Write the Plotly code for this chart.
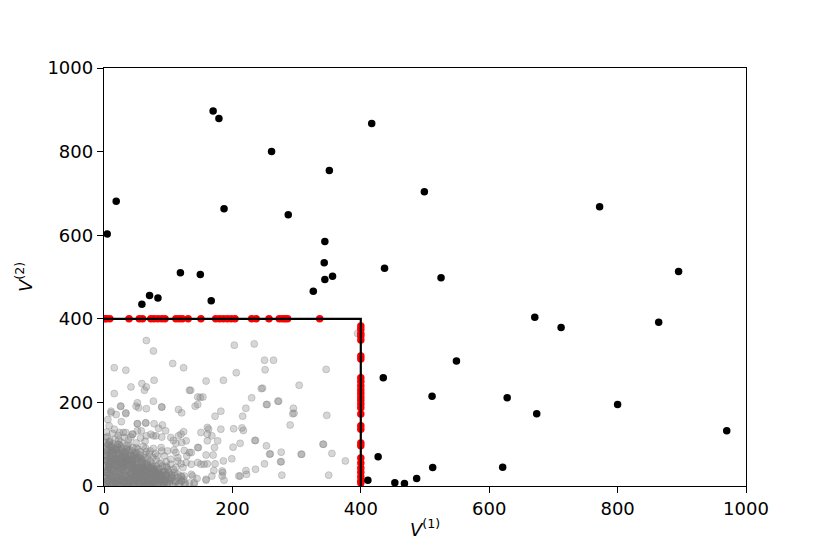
import plotly.graph_objects as go

# 상한 u = 400 인 절단 영역
u_level = 400
box_x = [0, 400, 400]
box_y = [400, 400, 0]

# 영역 밖의 점 (검정)
out_x = [170, 179, 417, 261, 351, 499, 19, 187, 287, 5, 344, 343, 437, 119, 150, 356, 344, 326, 71, 84, 167, 59,
         772, 525, 895, 671, 712, 864, 549, 511, 628, 674, 800, 970, 435, 427, 411, 453, 468, 487, 512, 621]
out_y = [897, 879, 867, 800, 755, 704, 681, 663, 649, 603, 585, 534, 521, 510, 506, 502, 494, 466, 456, 450, 443, 435,
         668, 498, 513, 404, 379, 392, 299, 215, 211, 173, 195, 132, 259, 70, 14, 8, 6, 18, 44, 45]

# 경계로 잘린 점 (빨강) - 가로선 위
cut_top_x = [1, 4, 9, 39, 55, 60, 73, 78, 84, 90, 95, 112, 117, 122, 131, 151, 174, 180, 186, 192, 198, 204,
             230, 237, 257, 273, 278, 282, 286, 336]
# 세로선 위
cut_side_y = [383, 375, 365, 359, 349, 311, 304, 259, 250, 240, 230, 222, 213, 205, 196, 187, 172, 144, 136,
              103, 96, 67, 55, 43, 33, 22, 12, 7]

# 영역 안의 점 (회색)
gray_x = [
    # y 0-20
    2, 5, 8, 11, 14, 17, 20, 23, 26, 29, 32, 35, 38, 41, 44, 47, 50, 53, 56, 59, 62, 65, 68, 71, 74, 77, 80, 83,
    86, 89, 92, 95, 99, 103, 107, 111, 116, 121, 127, 133, 3, 9, 19, 27, 36, 46, 57, 69, 78, 88,
    # y 20-45
    3, 6, 9, 12, 15, 18, 21, 24, 27, 30, 33, 36, 39, 42, 45, 48, 51, 54, 57, 60, 63, 66, 69, 72, 75, 78, 81, 84,
    88, 92, 96, 100, 105, 110, 115, 121, 7, 25, 44, 62, 80, 98,
    # y 45-70
    2, 5, 8, 11, 14, 17, 20, 23, 26, 29, 32, 35, 38, 41, 44, 47, 50, 53, 57, 60, 64, 68, 72, 76, 81, 86, 91, 97,
    104, 12, 31, 48,
    # y 70-100
    3, 6, 9, 12, 15, 18, 21, 24, 27, 30, 33, 36, 39, 42, 45, 49, 53, 57, 61, 66, 71, 77, 83, 90, 8, 22,
    # y 100-130
    2, 5, 9, 13, 17, 22, 27, 32, 38, 44, 50, 57, 64, 4, 30,
    # 밀집 영역 추가
    4, 7, 10, 13, 16, 19, 22, 25, 28, 31, 34, 37, 40, 43, 46, 49, 52, 55, 58, 61, 64, 67, 70, 73, 76, 79, 82, 85,
    90, 94, 98, 102, 106, 112, 118, 124, 6, 9, 12, 15, 18, 21, 24, 27, 30, 33, 36, 39, 42, 45, 48, 51, 54, 57,
    60, 63, 66, 69, 72, 75, 78, 81, 85, 89, 93, 97, 101, 108, 3, 5, 8, 11, 14, 17, 20, 23, 26, 29, 32, 35, 38,
    41, 44, 47, 50, 53, 56, 59, 62, 65, 68, 72, 76, 80, 1, 2, 3, 6, 10, 18, 24, 33, 42, 51, 60, 70, 84, 96, 110,
    126, 140, 145,
    1, 3, 5, 7, 9, 11, 13, 15, 17, 19, 21, 23, 25, 27, 29, 31, 33, 35, 37, 39, 41, 43, 45, 47, 49, 51, 53, 55,
    57, 59, 61, 63, 65, 67, 69, 71, 73, 75, 77, 79, 81, 83, 85, 87, 89, 91, 93, 95, 97, 100,
    2, 4, 6, 8, 10, 12, 14, 16, 18, 20, 22, 24, 26, 28, 30, 32, 34, 36, 38, 40, 42, 44, 46, 48, 50, 54, 58, 62,
    66, 70, 74, 78, 82, 86, 90, 95, 100, 105, 110, 115,
    2, 4, 6, 8, 10, 12, 14, 16, 18, 20, 22, 24, 26, 28, 30, 32, 34, 36, 38, 40, 42, 44, 46, 48, 50, 52, 54, 56,
    58, 60, 62, 64, 66, 68, 70, 72, 74, 76, 78, 80,
    1, 3, 5, 7, 9, 11, 13, 15, 17, 19, 21, 23, 25, 27, 29, 31, 33, 35, 37, 39, 41, 43, 45, 47, 49, 51, 53, 55,
    57, 59, 61, 63, 65, 67, 69, 72, 76, 80, 86, 92,
    3, 8, 13, 18, 23, 28, 33, 38, 43, 48, 53, 58, 63, 68, 73, 78, 83, 88, 93, 98,
    # 가장자리
    26, 50, 90, 146, 11, 19, 34, 6, 27, 52, 65, 78, 91, 8, 16, 34, 45, 58, 73, 81, 104, 120, 128, 151, 161, 161,
    168, 146, 133, 115, 128, 136, 123, 151, 161, 120, 136, 159, 104, 89, 99, 109, 94, 104,
    # 흩어진 점
    66, 77, 203, 234, 250, 264, 16, 34, 107, 124, 251, 206, 59, 78, 42, 66, 63, 133, 135, 159, 186, 245, 16, 146,
    150, 230, 77, 52, 142, 253, 26, 90, 54, 116, 66, 221, 182, 121, 11, 34, 173, 216, 52, 65, 85, 96, 124, 163,
    182, 202, 215, 236, 253, 258, 212, 201, 177, 172, 147, 136, 116, 108, 112, 90, 77, 66, 52, 42, 24, 121, 125,
    129, 159, 170, 173, 184, 184, 168, 146, 138, 141, 212, 222, 236, 250, 112, 115, 120, 112, 125, 121,
    395, 346, 247, 304, 271, 295, 296, 347, 290, 342, 259, 276, 308, 355, 376, 276, 277, 350, 154, 272, 254,
    294, 217, 161, 235, 307, 341, 186, 199, 156, 171, 185, 221, 210, 275, 159, 187]
gray_y = [
    # y 0-20
    3, 12, 6, 17, 2, 9, 14, 4, 11, 18, 6, 1, 13, 8, 16, 3, 10, 19, 5, 12, 2, 15, 8, 18, 4, 11, 1, 14,
    7, 17, 3, 10, 6, 14, 2, 9, 4, 12, 3, 7, 19, 1, 7, 2, 9, 12, 17, 1, 16, 11,
    # y 20-45
    25, 38, 30, 22, 42, 28, 35, 23, 44, 31, 26, 39, 21, 33, 41, 27, 36, 24, 43, 30, 22, 38, 28, 34, 24, 41, 29, 36,
    23, 32, 27, 39, 24, 33, 28, 22, 44, 32, 22, 35, 21, 44,
    # y 45-70
    48, 62, 53, 68, 46, 57, 65, 50, 60, 47, 69, 55, 63, 49, 58, 66, 52, 61, 47, 56, 68, 51, 59, 46, 63, 54, 48, 58,
    52, 58, 52, 45,
    # y 70-100
    72, 88, 79, 96, 74, 85, 93, 77, 90, 82, 71, 97, 86, 75, 92, 80, 88, 73, 95, 82, 76, 90, 72, 84, 99, 100,
    # y 100-130
    104, 118, 108, 126, 112, 121, 105, 116, 110, 124, 103, 115, 107, 129, 128,
    # 밀집 영역 추가
    5, 15, 27, 8, 35, 21, 50, 6, 40, 16, 57, 3, 29, 47, 14, 24, 5, 33, 18, 44, 9, 26, 13, 37, 7, 22, 15, 30,
    18, 8, 25, 6, 19, 11, 6, 16, 55, 70, 84, 62, 48, 76, 58, 68, 45, 82, 63, 52, 72, 60, 35, 78, 43, 66,
    50, 38, 57, 44, 30, 52, 34, 47, 40, 55, 36, 47, 33, 40, 33, 80, 45, 92, 102, 66, 86, 110, 95, 75, 60, 88, 100,
    64, 84, 73, 91, 70, 82, 64, 75, 90, 66, 84, 68, 78, 90, 60, 115, 100, 40, 5, 15, 12, 2, 17, 7, 20, 4, 15, 25,
    8, 5, 18,
    8, 20, 33, 45, 58, 12, 26, 39, 52, 4, 16, 29, 42, 55, 10, 23, 36, 49, 2, 14, 27, 40, 53, 7, 19, 31, 44, 5,
    17, 30, 43, 11, 24, 37, 3, 15, 28, 41, 9, 21, 34, 6, 18, 32, 13, 25, 4, 16, 28, 11,
    70, 62, 85, 48, 77, 95, 66, 88, 57, 80, 72, 99, 64, 86, 54, 76, 69, 91, 59, 81, 63, 50, 74, 45, 67, 40, 58, 35,
    52, 30, 48, 38, 26, 42, 22, 34, 18, 28, 12, 20,
    2, 31, 14, 52, 7, 40, 22, 63, 11, 48, 3, 35, 18, 57, 9, 44, 26, 5, 38, 16, 29, 8, 46, 21, 13, 34, 4, 24,
    10, 41, 17, 6, 28, 12, 20, 3, 15, 9, 25, 6,
    40, 9, 74, 27, 60, 18, 85, 4, 50, 32, 68, 13, 44, 24, 56, 7, 37, 62, 20, 47, 11, 30, 53, 2, 36, 19, 45, 27,
    8, 33, 23, 14, 39, 5, 18, 30, 12, 4, 22, 9,
    95, 105, 78, 92, 88, 70, 80, 66, 72, 60, 64, 58, 50, 48, 44, 38, 30, 26, 14, 6,
    # 가장자리
    191, 191, 189, 195, 175, 171, 173, 159, 154, 149, 151, 149, 146, 144, 136, 128, 124, 132, 124, 120, 116, 124,
    108, 128, 140, 124, 120, 92, 80, 60, 56, 52, 44, 52, 53, 24, 28, 16, 20, 92, 84, 86, 72, 64,
    # 흩어진 점
    348, 323, 337, 340, 301, 301, 283, 277, 293, 283, 278, 271, 245, 253, 237, 237, 229, 229, 229, 251, 253, 233,
    221, 213, 212, 211, 203, 199, 191, 195, 191, 189, 187, 183, 185, 186, 179, 175, 179, 175, 167, 167, 149, 151,
    138, 132, 130, 136, 136, 137, 139, 109, 96, 76, 102, 93, 108, 92, 92, 80, 120, 109, 102, 117, 120, 120, 132,
    117, 128, 104, 85, 72, 74, 74, 53, 36, 24, 24, 56, 24, 8, 24, 28, 40, 53, 80, 68, 53, 44, 24, 12,
    365, 279, 234, 241, 203, 186, 174, 169, 146, 100, 77, 81, 76, 78, 60, 58, 26, 26, 213, 203, 195,
    173, 133, 108, 109, 76, 100, 60, 65, 52, 37, 32, 37, 24, 58, 14, 14]

assert len(gray_x) == len(gray_y), (len(gray_x), len(gray_y))
assert len(out_x) == len(out_y)

fig = go.Figure()

fig.add_trace(go.Scatter(
    x=gray_x, y=gray_y, mode="markers",
    marker=dict(size=7, color="rgba(128,128,128,0.32)", line=dict(width=1, color="rgba(128,128,128,0.32)")),
    showlegend=False, hoverinfo="skip"))

fig.add_trace(go.Scatter(
    x=cut_top_x + [u_level] * len(cut_side_y),
    y=[u_level] * len(cut_top_x) + cut_side_y,
    mode="markers", marker=dict(size=7.5, color="red", line=dict(width=0)),
    showlegend=False))

fig.add_trace(go.Scatter(
    x=out_x, y=out_y, mode="markers",
    marker=dict(size=7.5, color="black", line=dict(width=0)),
    showlegend=False))

fig.add_trace(go.Scatter(
    x=box_x, y=box_y, mode="lines", line=dict(color="black", width=2.2),
    showlegend=False))

axis_style = dict(
    range=[0, 1000], dtick=200, showgrid=False, zeroline=False, automargin=False,
    showline=True, linecolor="black", linewidth=1.4, mirror=True,
    ticks="outside", ticklen=6, tickwidth=1.4, tickcolor="black",
    tickfont=dict(size=18, color="black"),
)

# 페이지 여백(8px)만큼 당겨서 배치
fig.update_layout(
    width=830, height=554,
    margin=dict(l=96, r=92, t=60, b=76),
    plot_bgcolor="white", paper_bgcolor="white",
    font=dict(family="DejaVu Sans", color="black"),
    xaxis=dict(axis_style, title=dict(text="<i>V</i><sup>(1)</sup>", font=dict(size=18), standoff=5)),
    yaxis=dict(axis_style, title=dict(text="<i>V</i><sup>(2)</sup>", font=dict(size=18), standoff=10)),
)

fig.write_html("out.html")
